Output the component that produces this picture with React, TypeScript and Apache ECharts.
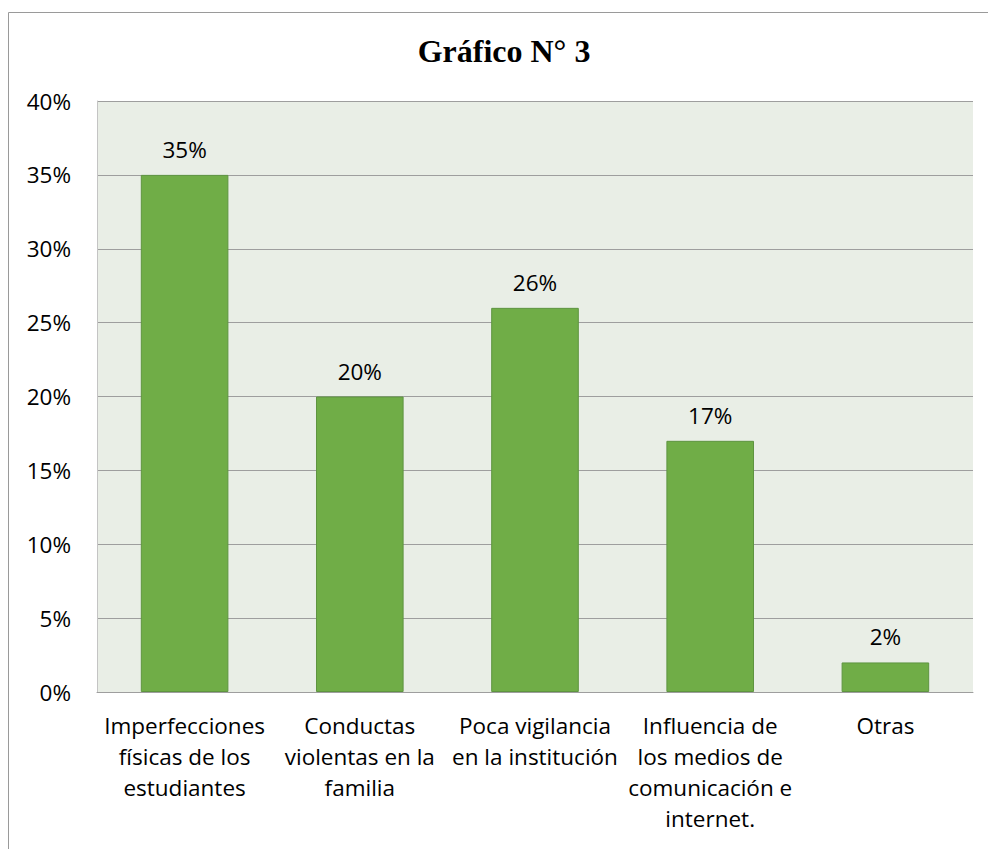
import React, { useEffect, useRef } from "react";
import * as echarts from "echarts";

const categories = [
  "Imperfecciones\nfísicas de los\nestudiantes",
  "Conductas\nviolentas en la\nfamilia",
  "Poca vigilancia\nen la institución",
  "Influencia de\nlos medios de\ncomunicación e\ninternet.",
  "Otras",
];
const values = [35, 20, 26, 17, 2];
const titleText = "Gráfico N° 3";

export default function App() {
  const ref = useRef<HTMLDivElement>(null);
  useEffect(() => {
    if (!ref.current) return;
    const chart = echarts.init(ref.current, null, { renderer: "svg" });
    const font = "'Open Sans', 'Noto Sans', sans-serif";
    chart.setOption({
      animation: false,
      backgroundColor: "#ffffff",
      graphic: [
        {
          type: "rect",
          shape: { x: 8.5, y: 12.5, width: 1100, height: 1000 },
          style: { fill: "none", stroke: "#9a9a9a", lineWidth: 1 },
          silent: true,
        },
        {
          type: "text",
          x: 504,
          y: 51,
          style: {
            text: titleText,
            font: "bold 32px 'Liberation Serif', 'Times New Roman', serif",
            fill: "#000",
            textAlign: "center",
            textVerticalAlign: "middle",
          },
        },
      ],
      grid: {
        left: 97,
        right: 15,
        top: 101,
        bottom: 157,
        show: true,
        backgroundColor: "#E9EEE6",
        borderWidth: 0,
      },
      xAxis: {
        type: "category",
        data: categories,
        axisLine: { show: true, lineStyle: { color: "#9e9e9e", width: 1 } },
        axisTick: { show: false },
        axisLabel: {
          interval: 0,
          color: "#000",
          fontFamily: font,
          fontSize: 22.5,
          lineHeight: 31,
          margin: 18,
        },
      },
      yAxis: {
        type: "value",
        min: 0,
        max: 40,
        interval: 5,
        axisLine: { show: true, lineStyle: { color: "#c4c4c4", width: 1 } },
        axisTick: { show: false },
        splitLine: { show: true, lineStyle: { color: "#9e9e9e", width: 1 } },
        axisLabel: {
          formatter: "{value}%",
          color: "#000",
          fontFamily: font,
          fontSize: 22.5,
          margin: 26,
        },
      },
      series: [
        {
          type: "bar",
          data: values,
          barCategoryGap: "50%",
          itemStyle: { color: "#70AD47", borderColor: "#5E9440", borderWidth: 1 },
          label: {
            show: true,
            position: "top",
            distance: 14,
            formatter: "{c}%",
            color: "#000",
            fontFamily: font,
            fontSize: 22.5,
          },
        },
      ],
    });
    return () => chart.dispose();
  }, []);
  return (
    <div
      ref={ref}
      style={{ position: "absolute", left: 0, top: 0, width: 988, height: 849 }}
    />
  );
}
